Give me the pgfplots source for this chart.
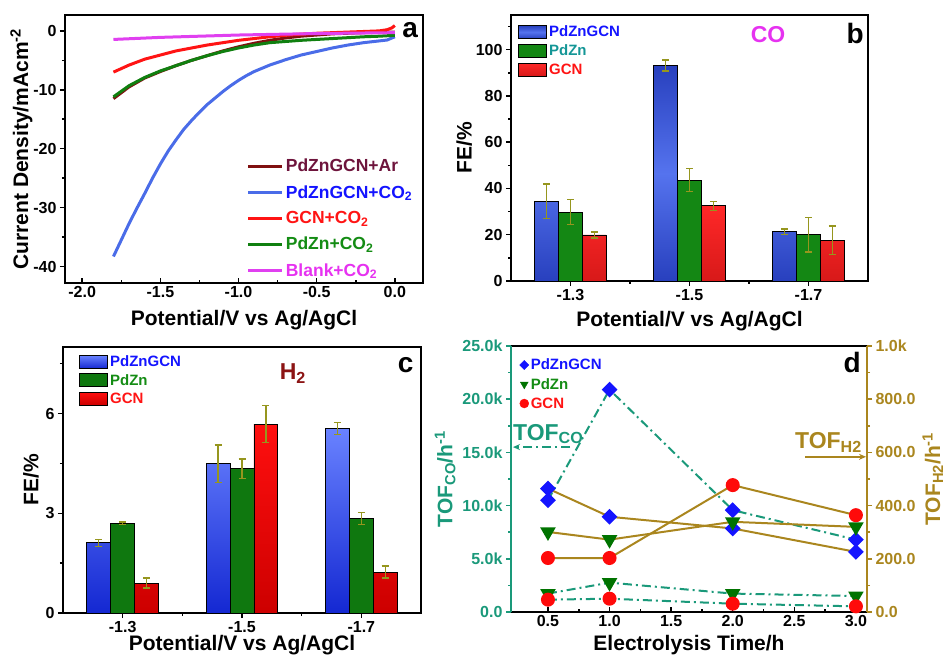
\documentclass[border=0pt]{standalone}
\usepackage{fontspec}
\setmainfont{Liberation Sans}
\usepackage{pgfplots}
\pgfplotsset{compat=1.18}
\usetikzlibrary{arrows.meta}
\definecolor{cAr}{RGB}{128,16,16}
\definecolor{cBlueL}{RGB}{74,108,232}
\definecolor{cRed}{RGB}{255,20,20}
\definecolor{cGreen}{RGB}{16,128,16}
\definecolor{cMag}{RGB}{224,64,240}
\definecolor{tBlue}{RGB}{20,20,255}
\definecolor{tAr}{RGB}{110,20,60}
\definecolor{tTeal}{RGB}{20,150,150}
\definecolor{tGreen}{RGB}{20,140,20}
\definecolor{tRed}{RGB}{255,20,20}
\definecolor{tMag}{RGB}{230,50,240}
\definecolor{errc}{RGB}{150,150,30}
\definecolor{dTeal}{RGB}{26,153,122}
\definecolor{dOlive}{RGB}{170,134,30}
\definecolor{h2c}{RGB}{140,20,20}
\definecolor{bbD}{RGB}{40,64,190}
\definecolor{bbL}{RGB}{85,115,238}
\definecolor{bgr}{RGB}{20,135,20}
\definecolor{brT}{RGB}{255,40,40}
\definecolor{brB}{RGB}{215,25,25}
\definecolor{cbT}{RGB}{105,130,255}
\definecolor{cbB}{RGB}{20,40,210}
\definecolor{cgr}{RGB}{15,120,15}
\definecolor{crT}{RGB}{255,15,15}
\definecolor{crB}{RGB}{205,0,0}
\definecolor{mBlue}{RGB}{20,20,255}
\definecolor{mGreen}{RGB}{0,115,0}
\definecolor{mRed}{RGB}{255,10,10}
\newcommand\tkf{\fontsize{16bp}{18bp}\selectfont\bfseries}
\newcommand\lbf{\fontsize{21bp}{24bp}\selectfont\bfseries}
\newcommand\lgf{\fontsize{15bp}{17bp}\selectfont\bfseries}
\newcommand\lgfa{\fontsize{17.5bp}{19bp}\selectfont\bfseries}
\newcommand\pnf{\fontsize{28bp}{30bp}\selectfont\bfseries}
\newcommand\ttf{\fontsize{23bp}{25bp}\selectfont\bfseries}
\pgfplotsset{
  panel/.style={
    scale only axis, anchor=south west,
    axis line style={line width=2bp},
    tick style={line width=1.5bp, black},
    major tick length=5bp, minor tick length=3bp,
    tick label style={font=\tkf},
    label style={font=\lbf},
    xtick pos=left, ytick pos=left,
    xtick align=inside, ytick align=outside,
    /pgf/number format/assume math mode=true,
    scaled ticks=false,
  },
  barleg/.style={legend image code/.code={\draw[##1,/tikz/.cd,draw=black,line width=0.8bp] (0bp,-6.5bp) rectangle (28bp,6.5bp);}},
  errstyle/.style={error bars/.cd, y dir=both, y explicit, error bar style={errc, line width=1.3bp}, error mark options={rotate=90, errc, line width=1.3bp, mark size=3.5bp}},
}
\begin{document}
\begin{tikzpicture}
\useasboundingbox (0,0) rectangle (945bp,656bp);
% ---------------- panel a
\begin{axis}[panel, at={(65bp,373bp)}, width=358bp, height=268bp,
  xmin=-2.11, xmax=0.18, ymin=-42.8, ymax=2.7,
  xtick={-2,-1.5,-1,-0.5,0}, xticklabels={-2.0,-1.5,-1.0,-0.5,0.0},
  minor xtick={-1.75,-1.25,-0.75,-0.25},
  ytick={-40,-30,-20,-10,0}, yticklabels={-40,-30,-20,-10,0},
  minor ytick={-35,-25,-15,-5},
  xlabel={Potential/V vs Ag/AgCl}, ylabel={Current Density/mAcm\textsuperscript{-2}},
  xlabel style={yshift=-6bp}, ylabel style={yshift=-6bp},
  legend style={at={(0.506,0.47)}, anchor=north west, draw=none, fill=none, inner sep=0pt, font=\lgfa, row sep=8bp, cells={anchor=west}},
  legend image code/.code={\draw[#1, line width=3.5bp] (0bp,0bp) -- (34bp,0bp);},
]
\addplot[cAr, line width=3bp] coordinates {(-1.8,-11.5) (-1.7,-9.5) (-1.6,-8.0) (-1.5,-6.9) (-1.4,-5.9) (-1.3,-5.0) (-1.2,-4.2) (-1.1,-3.4) (-1.0,-2.7) (-0.9,-2.1) (-0.8,-1.6) (-0.7,-1.2) (-0.6,-0.9) (-0.5,-0.7) (-0.4,-0.5) (-0.3,-0.4) (-0.2,-0.3) (-0.1,-0.25) (0,-0.2)};
\addlegendentry{\textcolor{tAr}{PdZnGCN+Ar}}
\addplot[cBlueL, line width=3bp] coordinates {(-1.8,-38.3) (-1.75,-35.5) (-1.7,-32.7) (-1.65,-30.1) (-1.6,-27.6) (-1.55,-25.0) (-1.5,-22.6) (-1.45,-20.4) (-1.4,-18.5) (-1.35,-16.7) (-1.3,-15.2) (-1.25,-13.8) (-1.2,-12.5) (-1.15,-11.4) (-1.1,-10.3) (-1.05,-9.3) (-1.0,-8.4) (-0.95,-7.6) (-0.9,-6.9) (-0.8,-5.8) (-0.7,-4.9) (-0.6,-4.1) (-0.5,-3.5) (-0.4,-2.9) (-0.3,-2.4) (-0.2,-2.0) (-0.1,-1.7) (-0.05,-1.55) (0,-1.0)};
\addlegendentry{\textcolor{tBlue}{PdZnGCN+CO\textsubscript{2}}}
\addplot[cRed, line width=3bp] coordinates {(-1.8,-7.0) (-1.7,-5.8) (-1.6,-4.8) (-1.5,-4.1) (-1.4,-3.4) (-1.3,-2.9) (-1.2,-2.4) (-1.1,-2.0) (-1.0,-1.6) (-0.9,-1.3) (-0.8,-1.0) (-0.7,-0.75) (-0.6,-0.55) (-0.5,-0.4) (-0.4,-0.3) (-0.3,-0.2) (-0.2,-0.1) (-0.1,0.0) (-0.05,0.2) (-0.02,0.5) (0,0.9)};
\addlegendentry{\textcolor{tRed}{GCN+CO\textsubscript{2}}}
\addplot[cGreen, line width=3bp] coordinates {(-1.8,-11.2) (-1.7,-9.3) (-1.6,-7.9) (-1.5,-6.8) (-1.4,-5.9) (-1.3,-5.0) (-1.2,-4.2) (-1.1,-3.5) (-1.0,-2.9) (-0.9,-2.4) (-0.8,-2.0) (-0.7,-1.8) (-0.6,-1.6) (-0.5,-1.45) (-0.4,-1.3) (-0.3,-1.15) (-0.2,-1.0) (-0.1,-0.9) (0,-0.75)};
\addlegendentry{\textcolor{tGreen}{PdZn+CO\textsubscript{2}}}
\addplot[cMag, line width=3bp] coordinates {(-1.8,-1.45) (-1.5,-1.1) (-1.0,-0.7) (-0.5,-0.45) (0,-0.3)};
\addlegendentry{\textcolor{tMag}{Blank+CO\textsubscript{2}}}
\node[font=\pnf] at (rel axis cs:0.964,0.944) {a};
\end{axis}
% ---------------- panel b
\begin{axis}[panel, at={(511bp,375bp)}, width=357bp, height=266bp, ybar,
  xmin=-0.5, xmax=2.5, ymin=0, ymax=115,
  xtick={0,1,2}, xticklabels={-1.3,-1.5,-1.7}, minor xtick={0.5,1.5},
  ytick={0,20,40,60,80,100}, yticklabels={0,20,40,60,80,100}, minor ytick={10,30,50,70,90,110},
  xlabel={Potential/V vs Ag/AgCl}, ylabel={FE/\%},
  xlabel style={yshift=-4bp}, ylabel style={yshift=-3bp},
  legend style={at={(0.02,0.967)}, anchor=north west, draw=none, fill=none, inner sep=0pt, font=\lgf, row sep=2.5bp, cells={anchor=west}},
]
\addplot[barleg, bar width=0.2, bar shift=-0.2, draw=black, line width=0.8bp, top color=bbD, bottom color=bbD, middle color=bbL, errstyle] coordinates {(0,34.5) +- (0,7.4) (1,93.2) +- (0,2.4) (2,21.3) +- (0,1.2)};
\addlegendentry{\textcolor{tBlue}{PdZnGCN}}
\addplot[barleg, bar width=0.2, bar shift=0, draw=black, line width=0.8bp, fill=bgr, errstyle] coordinates {(0,29.8) +- (0,5.5) (1,43.6) +- (0,4.9) (2,20.1) +- (0,7.5)};
\addlegendentry{\textcolor{tTeal}{PdZn}}
\addplot[barleg, bar width=0.2, bar shift=0.2, draw=black, line width=0.8bp, top color=brT, bottom color=brB, errstyle] coordinates {(0,19.9) +- (0,1.3) (1,32.5) +- (0,2.0) (2,17.7) +- (0,6.1)};
\addlegendentry{\textcolor{tRed}{GCN}}
\node[font=\ttf, text=tMag] at (rel axis cs:0.72,0.925) {CO};
\node[font=\pnf] at (rel axis cs:0.964,0.932) {b};
\end{axis}
% ---------------- panel c
\begin{axis}[panel, at={(63bp,43bp)}, width=358bp, height=266bp, ybar,
  xmin=-0.5, xmax=2.5, ymin=0, ymax=8,
  xtick={0,1,2}, xticklabels={-1.3,-1.5,-1.7}, minor xtick={0.5,1.5},
  ytick={0,3,6}, yticklabels={0,3,6}, minor ytick={1.5,4.5,7.5},
  xlabel={Potential/V vs Ag/AgCl}, ylabel={FE/\%},
  xlabel style={yshift=4bp},
  legend style={at={(0.045,0.975)}, anchor=north west, draw=none, fill=none, inner sep=0pt, font=\lgf, row sep=2bp, cells={anchor=west}},
]
\addplot[barleg, bar width=0.2, bar shift=-0.2, draw=black, line width=0.8bp, top color=cbT, bottom color=cbB, errstyle] coordinates {(0,2.11) +- (0,0.1) (1,4.49) +- (0,0.56) (2,5.54) +- (0,0.18)};
\addlegendentry{\textcolor{tBlue}{PdZnGCN}}
\addplot[barleg, bar width=0.2, bar shift=0, draw=black, line width=0.8bp, fill=cgr, errstyle] coordinates {(0,2.70) +- (0,0.04) (1,4.34) +- (0,0.29) (2,2.84) +- (0,0.18)};
\addlegendentry{\textcolor{tGreen}{PdZn}}
\addplot[barleg, bar width=0.2, bar shift=0.2, draw=black, line width=0.8bp, top color=crT, bottom color=crB, errstyle] coordinates {(0,0.90) +- (0,0.15) (1,5.68) +- (0,0.56) (2,1.23) +- (0,0.18)};
\addlegendentry{\textcolor{tRed}{GCN}}
\node[font=\ttf, text=h2c] at (rel axis cs:0.642,0.9) {H\textsubscript{2}};
\node[font=\pnf] at (rel axis cs:0.957,0.932) {c};
\end{axis}
% ---------------- panel d (left axis, CO)
\begin{axis}[panel, at={(511bp,44bp)}, width=356bp, height=266bp,
  xmin=0.2, xmax=3.09, ymin=0, ymax=25000,
  separate axis lines, axis x line*=box, axis y line*=left,
  x axis line style={-, black, line width=2bp},
  y axis line style={-, dTeal, line width=2.5bp},
  every y tick/.append style={dTeal},
  yticklabel style={text=dTeal}, ylabel style={text=dTeal},
  xtick={0.5,1,1.5,2,2.5,3}, xticklabels={0.5,1.0,1.5,2.0,2.5,3.0},
  minor xtick={0.75,1.25,1.75,2.25,2.75},
  ytick={0,5000,10000,15000,20000,25000}, yticklabels={0.0,5.0k,10.0k,15.0k,20.0k,25.0k},
  minor ytick={2500,7500,12500,17500,22500},
  xlabel={Electrolysis Time/h}, ylabel={TOF\textsubscript{CO}/h\textsuperscript{-1}},
  xlabel style={yshift=-2bp},
  legend style={at={(0.024,0.96)}, anchor=north west, draw=none, fill=none, inner sep=0pt, font=\lgf, row sep=3bp, cells={anchor=west}},
]
\addlegendimage{only marks, mark=square*, mark size=3.2bp, mark options={rotate=45, fill=mBlue, draw=mBlue}}
\addlegendentry{\textcolor{tBlue}{PdZnGCN}}
\addlegendimage{only marks, mark=triangle*, mark size=4.5bp, mark options={rotate=180, fill=mGreen, draw=mGreen}}
\addlegendentry{\textcolor{tGreen}{PdZn}}
\addlegendimage{only marks, mark=*, mark size=4.5bp, mark options={fill=mRed, draw=mRed}}
\addlegendentry{\textcolor{tRed}{GCN}}
\addplot[forget plot, dTeal, line width=2bp, dash pattern=on 9bp off 4bp on 2bp off 4bp, mark=square*, mark size=4.6bp, mark options={solid, rotate=45, fill=mBlue, draw=mBlue}] coordinates {(0.5,10500) (1.0,20900) (2.0,9570) (3.0,6800)};
\addplot[forget plot, dTeal, line width=2bp, dash pattern=on 9bp off 4bp on 2bp off 4bp, mark=triangle*, mark size=7bp, mark options={solid, rotate=180, fill=mGreen, draw=mGreen}] coordinates {(0.5,1730) (1.0,2760) (2.0,1730) (3.0,1500)};
\addplot[forget plot, dTeal, line width=2bp, dash pattern=on 9bp off 4bp on 2bp off 4bp, mark=*, mark size=6bp, mark options={solid, fill=mRed, draw=mRed}] coordinates {(0.5,1160) (1.0,1250) (2.0,780) (3.0,530)};
\draw[dTeal, line width=2bp, dash pattern=on 9bp off 4bp on 2bp off 4bp, -{Stealth[length=7bp,width=6bp]}] (axis cs:0.68,15500) -- (axis cs:0.216,15500);
\node[font=\ttf, text=dTeal, anchor=base west, inner sep=0pt] at (axis cs:0.216,16155) {TOF\textsubscript{CO}};
\draw[dOlive, line width=2bp, -{Stealth[length=7bp,width=6bp]}] (axis cs:2.587,14584) -- (axis cs:3.082,14584);
\node[font=\ttf, text=dOlive, anchor=base west, inner sep=0pt] at (axis cs:2.505,15375) {TOF\textsubscript{H2}};
\node[font=\pnf] at (rel axis cs:0.958,0.938) {d};
\end{axis}
% ---------------- panel d (right axis, H2)
\begin{axis}[panel, at={(511bp,44bp)}, width=356bp, height=266bp,
  xmin=0.2, xmax=3.09, ymin=0, ymax=1000,
  separate axis lines, axis x line=none, axis y line*=right,
  y axis line style={-, dOlive, line width=2.5bp},
  ytick pos=right, yticklabel pos=right,
  every y tick/.append style={dOlive},
  yticklabel style={text=dOlive}, ylabel style={text=dOlive},
  xtick=\empty,
  ytick={0,200,400,600,800,1000}, yticklabels={0.0,200.0,400.0,600.0,800.0,1.0k},
  minor ytick={100,300,500,700,900},
  ylabel={TOF\textsubscript{H2}/h\textsuperscript{-1}},
]
\addplot[dOlive, line width=2bp, mark=square*, mark size=4.6bp, mark options={rotate=45, fill=mBlue, draw=mBlue}] coordinates {(0.5,464) (1.0,358) (2.0,314) (3.0,226)};
\addplot[dOlive, line width=2bp, mark=triangle*, mark size=7bp, mark options={rotate=180, fill=mGreen, draw=mGreen}] coordinates {(0.5,301) (1.0,272) (2.0,339) (3.0,320)};
\addplot[dOlive, line width=2bp, mark=*, mark size=6bp, mark options={fill=mRed, draw=mRed}] coordinates {(0.5,203) (1.0,203) (2.0,477) (3.0,364)};
\end{axis}
\end{tikzpicture}
\end{document}
